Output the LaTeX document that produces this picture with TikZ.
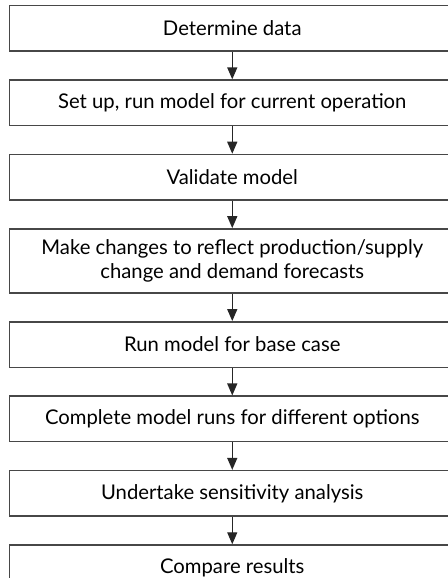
\documentclass[tikz,border=0pt]{standalone}
\usepackage{fontspec}
\setmainfont{Lato}
\usetikzlibrary{arrows.meta,positioning}

\begin{document}
\begin{tikzpicture}[>={Triangle[width=7.5pt,length=9pt]},node distance=20.6pt,
 stage/.style={draw=black!72,line width=1.1pt,minimum width=334.2pt,minimum height=34.1pt,
   align=center,inner sep=2pt,font=\fontsize{15.2}{17.5}\selectfont},
 flow/.style={->,draw=black!85,line width=1pt}]
\useasboundingbox (0,0) rectangle (335.25pt,-433.5pt);
\node[stage] (data) at (174.2pt,-21.3pt) {Determine data};
\node[stage,below=of data] (setup) {Set up, run model for current operation};
\node[stage,below=of setup] (valid) {Validate model};
\node[stage,below=of valid,minimum height=48pt] (change) {Make changes to reflect production/supply\\change and demand forecasts};
\node[stage,below=of change] (base) {Run model for base case};
\node[stage,below=of base] (options) {Complete model runs for different options};
\node[stage,below=of options] (sens) {Undertake sensitivity analysis};
\node[stage,below=of sens] (compare) {Compare results};
\foreach \a/\b in {data/setup,setup/valid,valid/change,change/base,base/options,options/sens,sens/compare}
  \draw[flow] (\a) -- (\b);
\end{tikzpicture}
\end{document}
